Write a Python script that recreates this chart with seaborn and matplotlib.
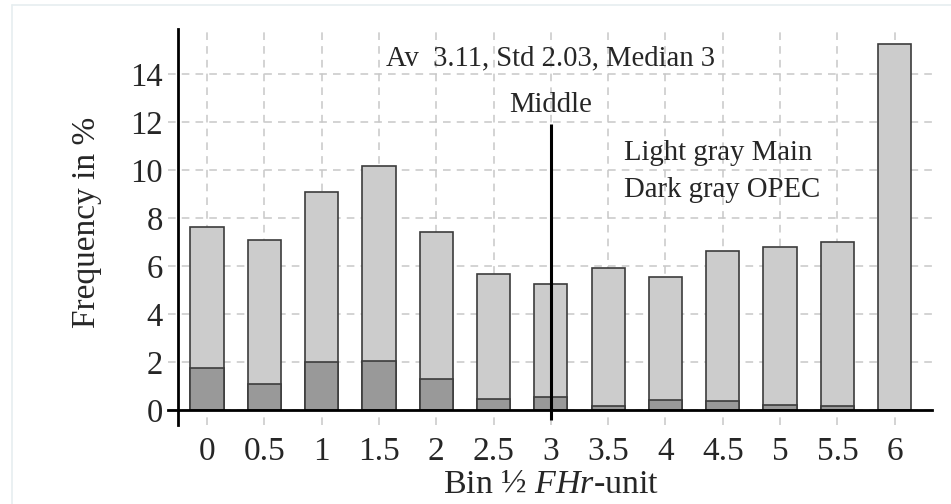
import seaborn as sns
import matplotlib.pyplot as plt
import pandas as pd
from matplotlib.lines import Line2D

# --- dados ---
BINS = ['0', '0.5', '1', '1.5', '2', '2.5', '3', '3.5', '4', '4.5', '5', '5.5', '6']
MAIN = [7.62, 7.08, 9.10, 10.18, 7.43, 5.65, 5.25, 5.90, 5.54, 6.64, 6.81, 7.01, 15.26]
OPEC = [1.74, 1.07, 2.00, 2.06, 1.28, 0.47, 0.53, 0.17, 0.42, 0.36, 0.22, 0.18, 0.0]
Y_TICKS = [0, 2, 4, 6, 8, 10, 12, 14]

COR_CLARA = '#cccccc'
COR_ESCURA = '#999999'
COR_BORDA = '#3c3c3c'

sns.set_style('white')
plt.rcParams['font.family'] = ['Liberation Serif', 'DejaVu Serif']
plt.rcParams['mathtext.fontset'] = 'custom'
plt.rcParams['mathtext.it'] = 'Liberation Serif:italic'
plt.rcParams['mathtext.rm'] = 'Liberation Serif'

df = pd.DataFrame({'Bin': BINS, 'Main': MAIN, 'OPEC': OPEC})

fig = plt.figure(figsize=(9.51, 5.04), dpi=100)
ax = fig.add_axes([168 / 951, 1 - 425 / 504, (932 - 168) / 951, (425 - 29) / 504])

# moldura clara em volta da figura
fig.add_artist(Line2D([12 / 951, 12 / 951], [0, 1 - 5 / 504], color='#e6eef0', lw=1.2))
fig.add_artist(Line2D([12 / 951, 1], [1 - 5 / 504, 1 - 5 / 504], color='#e6eef0', lw=1.2))

sns.barplot(data=df, x='Bin', y='Main', order=BINS, color=COR_CLARA, saturation=1,
            width=0.58, edgecolor=COR_BORDA, linewidth=1.2, ax=ax, zorder=2)
sns.barplot(data=df, x='Bin', y='OPEC', order=BINS, color=COR_ESCURA, saturation=1,
            width=0.58, edgecolor=COR_BORDA, linewidth=1.2, ax=ax, zorder=3)

ax.set_xlim(-0.68, 12.65)
ax.set_ylim(-0.625, 15.875)
ax.set_yticks(Y_TICKS)

ax.grid(True, color='#c8c8c8', linestyle=(0, (5, 4)), linewidth=1.1, zorder=0)
ax.set_axisbelow(True)

for lado in ['top', 'right']:
    ax.spines[lado].set_visible(False)
ax.spines['left'].set_position(('data', -0.5))
ax.spines['bottom'].set_position(('data', 0))
for lado in ['left', 'bottom']:
    ax.spines[lado].set_linewidth(2.0)
    ax.spines[lado].set_color('black')
    ax.spines[lado].set_zorder(5)

ax.tick_params(axis='y', length=0, pad=11, labelsize=23.5)
ax.tick_params(axis='x', length=0, pad=19, labelsize=24)

# linha do meio
ax.vlines(6, -0.42, 11.9, color='black', linewidth=2.2, zorder=6)

ax.text(6, 14.67, 'Av  3.11, Std 2.03, Median 3', ha='center', va='center', fontsize=20.6)
ax.text(6, 12.7, 'Middle', ha='center', va='center', fontsize=20.6)
ax.text(7.27, 10.7, 'Light gray Main', ha='left', va='center', fontsize=20.7)
ax.text(7.27, 9.17, 'Dark gray OPEC', ha='left', va='center', fontsize=20.7)

ax.set_xlabel('Bin ½ $\\mathit{FHr}$-unit', fontsize=24.5)
ax.set_ylabel('Frequency in %', fontsize=24)
ax.xaxis.set_label_coords((551 - 168) / (932 - 168), -(485 - 425) / (425 - 29))
ax.yaxis.set_label_coords(-(168 - 87) / (932 - 168), (425 - 222) / (425 - 29))
ax.xaxis.label.set_va('center')
ax.yaxis.label.set_va('center')

fig.savefig('out.png', dpi=100, facecolor='white')
